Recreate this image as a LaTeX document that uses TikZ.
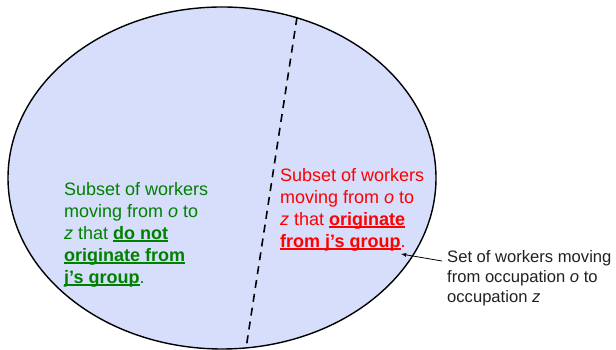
\documentclass[tikz,border=0pt]{standalone}
\usepackage{fontspec}
\setmainfont{Liberation Sans}
\usetikzlibrary{shapes.geometric}

\definecolor{setblue}{RGB}{214,222,251}
\definecolor{subgreen}{RGB}{0,128,0}
\definecolor{subred}{RGB}{255,0,0}
% bold text with a heavy underline
\newcommand{\ulbf}[1]{\setbox0\hbox{\bfseries #1}\rlap{\rule[-2.6pt]{\wd0}{1.5pt}}\box0}

\begin{document}
\begin{tikzpicture}[x=1pt,y=1pt,
  big/.style={inner sep=0pt,anchor=north west,align=left,font=\fontsize{18}{22}\selectfont},
  small/.style={inner sep=0pt,anchor=north west,align=left,font=\fontsize{16.6}{20}\selectfont,text=black!87}]
  \useasboundingbox (0,0) rectangle (616,350);
  % the set of movers
  \node[ellipse,draw,line width=1.4pt,fill=setblue,minimum width=428pt,minimum height=342pt,inner sep=0pt] (set) at (222,172) {};
  % split into the two subsets
  \draw[line width=1.6pt,dash pattern=on 8pt off 6pt] (set.65.7) -- (set.278.3);
  \node[big,text=subgreen] (other) at (64,168) {Subset of workers\\moving from \textit{o} to\\\textit{z} that \ulbf{do not}\\\ulbf{originate from}\\\ulbf{j's group}.};
  \node[big,text=subred] (own) at (280,182) {Subset of workers\\moving from \textit{o} to\\\textit{z} that \ulbf{originate}\\\ulbf{from j's group}.};
  % label for the whole set
  \node[small] (lbl) at (447,100) {Set of workers moving\\from occupation \textit{o} to\\occupation \textit{z}};
  \coordinate (tip) at (401,96);
  \draw[-latex,line width=0.8pt] ([xshift=-5pt,yshift=-11pt]lbl.north west) -- (tip);
\end{tikzpicture}
\end{document}
